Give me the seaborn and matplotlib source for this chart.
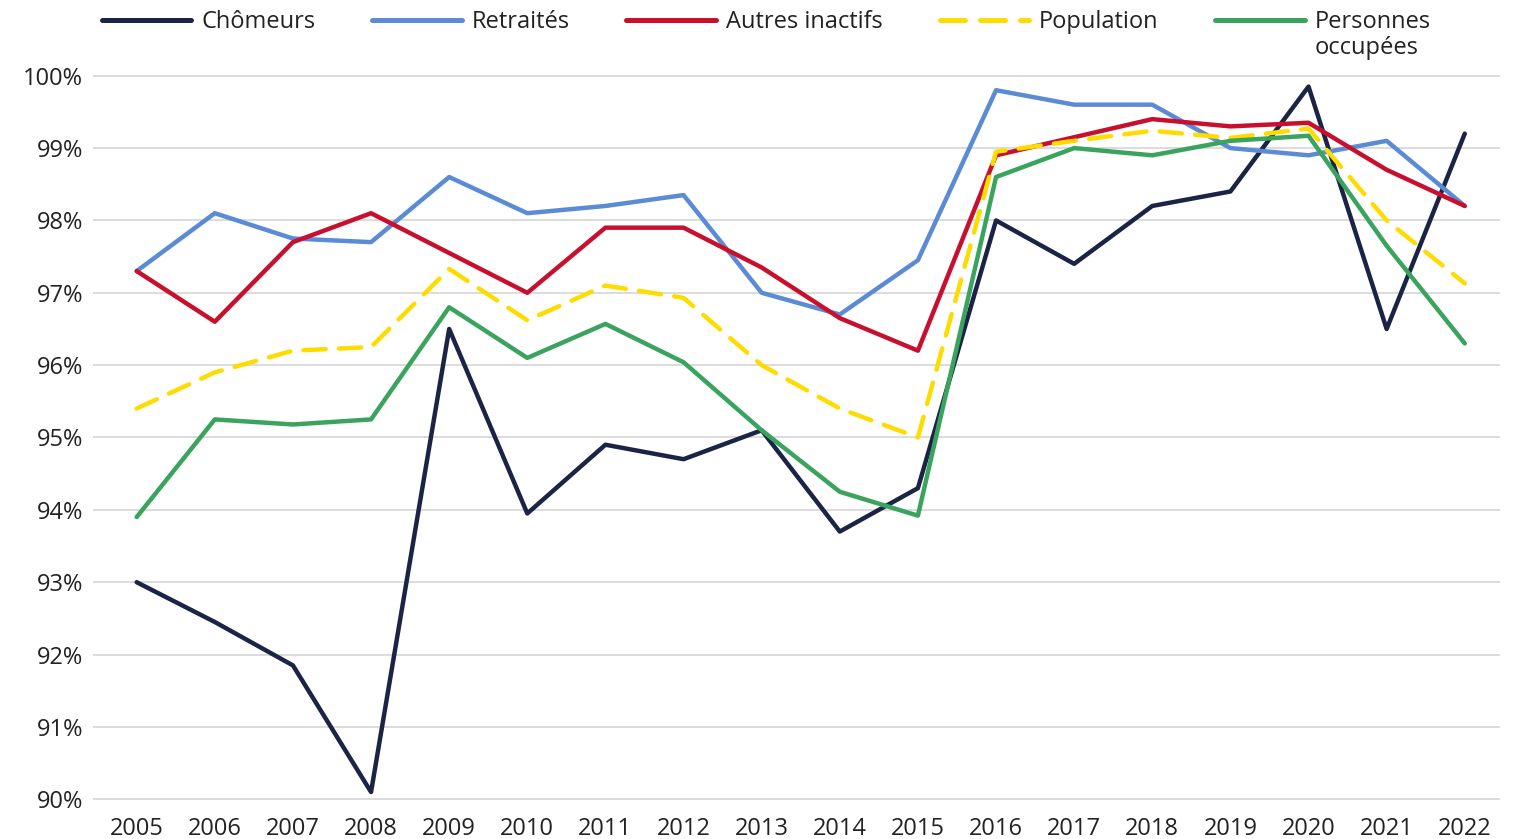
import pandas as pd
import matplotlib
matplotlib.use("Agg")
import matplotlib.pyplot as plt
import seaborn as sns

# Données (% par année)
annees = list(range(2005, 2023))
chomeurs = [93.0, 92.45, 91.85, 90.1, 96.5, 93.95, 94.9, 94.7, 95.1,
            93.7, 94.3, 98.0, 97.4, 98.2, 98.4, 99.85, 96.5, 99.2]
retraites = [97.3, 98.1, 97.75, 97.7, 98.6, 98.1, 98.2, 98.35, 97.0,
             96.7, 97.45, 99.8, 99.6, 99.6, 99.0, 98.9, 99.1, 98.2]
autres_inactifs = [97.3, 96.6, 97.7, 98.1, 97.55, 97.0, 97.9, 97.9, 97.35,
                   96.65, 96.2, 98.9, 99.15, 99.4, 99.3, 99.35, 98.7, 98.2]
population = [95.4, 95.9, 96.2, 96.25, 97.33, 96.62, 97.1, 96.93, 96.0,
              95.4, 95.0, 98.95, 99.1, 99.24, 99.14, 99.27, 98.0, 97.13]
occupees = [93.9, 95.25, 95.18, 95.25, 96.8, 96.1, 96.57, 96.04, 95.1,
            94.25, 93.92, 98.6, 99.0, 98.9, 99.1, 99.17, 97.65, 96.3]

series = ["Chômeurs", "Retraités", "Autres inactifs", "Population", "Personnes occupées"]
couleurs = {"Chômeurs": "#1b2445", "Retraités": "#5b8bd4", "Autres inactifs": "#c8102e",
            "Population": "#ffdc00", "Personnes occupées": "#3aa35d"}
tirets = {"Chômeurs": "", "Retraités": "", "Autres inactifs": "",
          "Population": (5, 3), "Personnes occupées": ""}

valeurs = [chomeurs, retraites, autres_inactifs, population, occupees]
df = pd.concat([pd.DataFrame({"annee": annees, "valeur": v, "serie": s})
                for s, v in zip(series, valeurs)], ignore_index=True)

sns.set_theme(style="white")
plt.rcParams["font.family"] = ["Open Sans", "DejaVu Sans"]
texte = "#222222"
taille = 17

fig = plt.figure(figsize=(15.16, 8.39), dpi=100)
ax = fig.add_axes([0.0613, 0.0465, 0.9281, 0.8641])

sns.lineplot(data=df, x="annee", y="valeur", hue="serie", style="serie",
             hue_order=series, style_order=series, palette=couleurs, dashes=tirets,
             linewidth=3.2, ax=ax, legend=True)

for ln in ax.get_lines():
    ln.set_solid_capstyle("round")
    ln.set_dash_capstyle("round")

ax.set_xlim(2004.44, 2022.45)
ax.set_ylim(89.99, 100.01)
ax.set_yticks(range(90, 101))
ax.set_yticklabels([f"{v}%" for v in range(90, 101)])
ax.set_xticks(annees)
ax.set_xticklabels([str(a) for a in annees])
ax.yaxis.grid(True, color="#d9d9d9", linewidth=1.3)
ax.set_axisbelow(True)
for sp in ax.spines.values():
    sp.set_visible(False)
ax.tick_params(axis="both", length=0, labelsize=taille, colors=texte)
ax.tick_params(axis="y", pad=7)
ax.tick_params(axis="x", pad=12)
ax.set_xlabel("")
ax.set_ylabel("")

handles, labels = ax.get_legend_handles_labels()
labels = ["Personnes" if l == "Personnes occupées" else l for l in labels]
ax.get_legend().remove()
leg = fig.legend(handles, labels, loc="upper left", bbox_to_anchor=(0.053, 1.013),
                 ncol=5, frameon=False, fontsize=taille, handlelength=3.8,
                 handletextpad=0.42, columnspacing=2.4, labelcolor=texte)
for h in leg.legend_handles:
    h.set_linewidth(3.6)

# deuxième ligne du dernier libellé
fig.canvas.draw()
bb = leg.get_texts()[-1].get_window_extent()
fig.text(bb.x0 / fig.bbox.width, (bb.y0 - 2) / fig.bbox.height, "occupées",
         fontsize=taille, color=texte, ha="left", va="top")

fig.savefig("out.png", dpi=100)
